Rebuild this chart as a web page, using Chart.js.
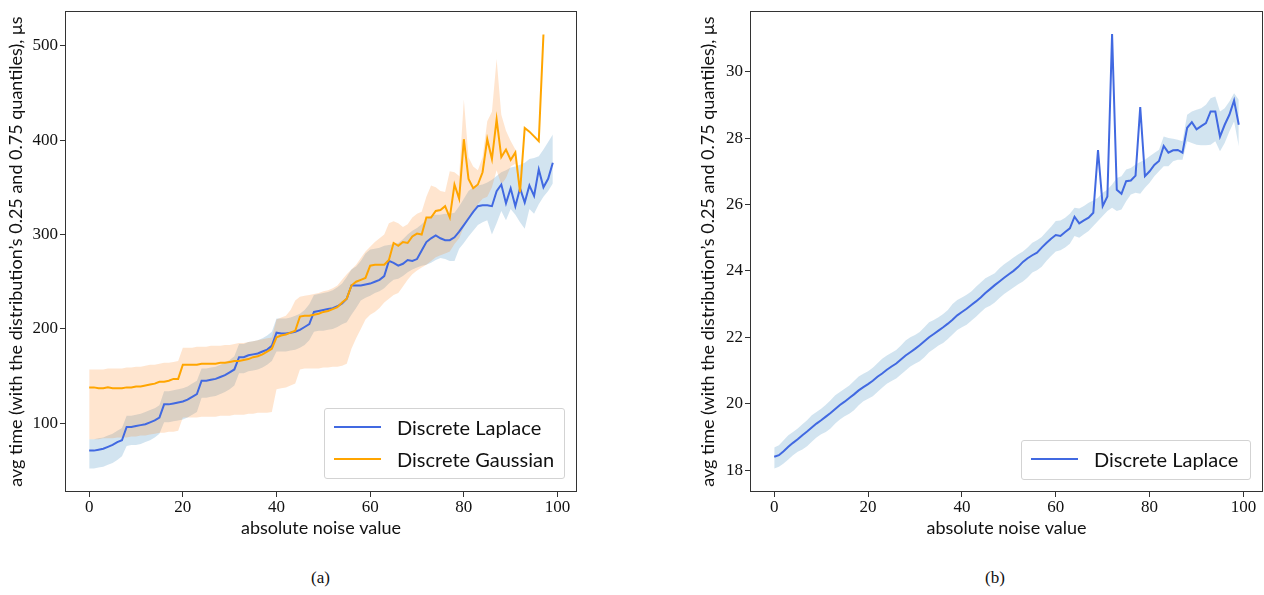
<!DOCTYPE html>
<html>
<head>
<meta charset="utf-8">
<script src="https://cdn.jsdelivr.net/npm/chart.js@4.4.0/dist/chart.umd.min.js"></script>
<style>
  body { margin: 0; background: #fff; }
  #page { position: relative; width: 1264px; height: 595px; overflow: hidden; }
  canvas { position: absolute; top: 0; }
  .legend { position: absolute; box-sizing: border-box; border: 1px solid #d3d3d3; border-radius: 3px;
            background: rgba(255,255,255,0.85); font-family: Lato, sans-serif; font-size: 20px; color: #111; }
  .legend-row { position: absolute; left: 0; height: 30px; display: flex; align-items: center; white-space: nowrap; }
  .legend-line { display: inline-block; width: 47px; height: 2px; margin-right: 16px; }
  .caption { position: absolute; top: 568px; font-family: 'Liberation Serif', serif; font-size: 17px; color: #111; }
</style>
</head>
<body>
<div id="page">
  <canvas id="chartA" width="600" height="545" style="left:0px;width:600px;height:545px"></canvas>
  <canvas id="chartB" width="584" height="545" style="left:680px;width:584px;height:545px"></canvas>
  <div id="legendA" class="legend" style="left:324px;top:408px;width:241px;height:71px"></div>
  <div id="legendB" class="legend" style="left:1021px;top:440px;width:230px;height:40px"></div>
  <div class="caption" style="left:311px">(a)</div>
  <div class="caption" style="left:985px">(b)</div>
</div>
<script>
// --- Data ---
const noise = [0,1,2,3,4,5,6,7,8,9,10,11,12,13,14,15,16,17,18,19,20,21,22,23,24,25,26,27,28,29,30,31,32,33,34,35,36,37,38,39,40,41,42,43,44,45,46,47,48,49,50,51,52,53,54,55,56,57,58,59,60,61,62,63,64,65,66,67,68,69,70,71,72,73,74,75,76,77,78,79,80,81,82,83,84,85,86,87,88,89,90,91,92,93,94,95,96,97,98,99];

// (a) discrete laplace: mean and 0.25 / 0.75 quantiles
const lapMean = [71,71,72,73,75,77,80,82, 96,96,97,98,99,101,103,106, 120,120,121,122,123,125,128,131,
  145,145,146,147,149,151,154,157, 170,170,172,173,174,176,178,182, 196,195,195,196,197,199,202,205,
  218,219,220,221,222,224,227,232, 246,246,246,247,248,250,252,256, 272,270,267,269,273,272,274,283,
  292,296,299,296,294,294,297,303, 310,317,324,330,331,331,330,346, 353,333,349,330,349,334,352,341,
  369,350,359,376];
const lapHi = [83,83,84,85,87,89,92,95, 108,108,109,110,112,114,116,119, 134,134,135,136,137,139,142,145,
  158,158,159,160,162,164,167,171, 184,184,186,187,188,190,193,197, 211,211,211,212,214,216,220,226,
  236,237,238,239,241,244,248,255, 263,266,272,280,284,285,286,288, 289,290,291,295,300,304,307,311,
  316,320,321,321,322,322,323,330, 338,346,350,352,353,355,358,362, 366,368,371,372,374,376,380,381,
  383,390,398,406];
const lapLo = [52,52,53,54,56,58,61,65, 76,77,77,78,80,82,85,89, 101,101,102,103,104,106,109,112,
  127,127,128,129,131,133,136,140, 153,153,155,156,157,159,162,166, 176,176,176,177,178,180,183,188,
  197,198,198,199,200,202,205,207, 215,222,230,233,235,238,240,243, 248,252,253,256,260,263,265,267,
  268,270,273,275,274,272,272,285, 291,298,304,310,313,315,300,312, 325,315,327,321,313,306,327,322,
  332,340,346,354];

// (a) discrete gaussian (line stops at 97, band at 92)
const gauMean = [138,138,137,137,138,137,137,137, 138,138,139,139,140,141,142,144, 144,145,147,147,
  162,162,162,162,163,163,163,163, 164,164,165,166, 166,167,168,170,171,173,176,179,
  191,193,194,196,198,213,214,214, 215,216,218,219,221,223,228,232, 246,250,252,254,267,268,268,268,
  273,291,288,292,291,298,301,300, 318,318,325,326,330,318,353,338, 401,359,349,353,366,401,380,422,
  382,390,379,387,345,413,409,404, 399,512];
const gauHi = [157,157,157,157,158,158,158,158,159,159,160,160,161,162,162,163,164,164,165,166,
  180,180,180,181,181,181,182,182,182,183,183,184,185,185,186,187,188,189,190,191,
  210,212,214,220,230,234,235,236, 237,238,240,241,243,246,252,258, 263,268,275,282,287,292,296,300,
  312,314,312,308,311,318,322,324, 340,352,350,346,345,367,366,362, 443,382,372,368,382,420,430,486,
  427,410,399,390,345];
const gauLo = [83,83,83,84,84,84,85,85,85,86,86,87,87,88,89,90,90,91,91,92,
  106,106,106,106,107,107,107,107,108,108,108,109,109,109,110,110,111,111,111,112,
  136,137,138,140,142,157,158,158, 158,158,159,159,160,160,161,163, 179,190,200,210,215,218,222,228,
  232,236,238,245,252,258,262,265, 268,272,276,278,280,282,290,296, 308,318,325,332,338,340,350,368,
  353,360,372,375,345];

// (b) discrete laplace only
const rMean = [18.40,18.45,18.57,18.70,18.82,18.93,19.05,19.16,19.28,19.40,
  19.50,19.61,19.72,19.84,19.96,20.06,20.17,20.28,20.40,20.50,
  20.59,20.69,20.81,20.91,21.02,21.12,21.21,21.33,21.45,21.55,
  21.65,21.76,21.88,22.00,22.10,22.20,22.30,22.41,22.53,22.66,
  22.76,22.86,22.97,23.08,23.20,23.33,23.45,23.57,23.68,23.79,
  23.90,24.00,24.12,24.27,24.38,24.47,24.55,24.70,24.84,24.97,
  25.08,25.05,25.17,25.28,25.63,25.43,25.52,25.60,25.75,27.64,
  25.95,26.24,31.13,26.44,26.32,26.70,26.72,26.87,28.93,26.85,
  27.00,27.19,27.31,27.76,27.56,27.63,27.64,27.56,28.31,28.48,
  28.26,28.36,28.45,28.80,28.80,28.04,28.40,28.70,29.13,28.40];
const rHi = [18.68,18.75,18.90,19.05,19.15,19.25,19.38,19.50,19.65,19.75,
  19.85,19.97,20.10,20.25,20.35,20.45,20.55,20.68,20.82,20.90,
  20.98,21.08,21.22,21.35,21.45,21.53,21.62,21.75,21.90,22.00,
  22.07,22.16,22.30,22.45,22.52,22.60,22.70,22.82,23.00,23.12,
  23.20,23.28,23.38,23.52,23.65,23.78,23.85,23.93,24.08,24.20,
  24.30,24.40,24.50,24.58,24.70,24.85,24.92,25.02,25.18,25.33,
  25.50,25.52,25.60,25.72,25.90,25.88,25.95,26.05,26.12,26.20,
  26.35,26.45,26.60,26.80,26.85,27.05,27.10,27.20,27.28,27.35,
  27.45,27.55,27.65,28.05,28.00,27.98,27.95,27.90,28.70,28.80,
  28.85,28.90,29.00,29.20,29.25,28.80,28.90,29.10,29.35,29.15];
const rLo = [18.05,18.10,18.20,18.32,18.45,18.55,18.62,18.72,18.85,18.98,
  19.08,19.15,19.25,19.40,19.52,19.62,19.70,19.80,19.95,20.07,
  20.15,20.22,20.35,20.48,20.60,20.68,20.76,20.88,21.00,21.12,
  21.20,21.28,21.40,21.55,21.65,21.75,21.83,21.95,22.08,22.22,
  22.30,22.38,22.50,22.62,22.75,22.88,22.95,23.05,23.18,23.30,
  23.40,23.50,23.60,23.68,23.80,23.95,24.02,24.12,24.30,24.45,
  24.58,24.62,24.70,24.82,25.05,25.00,25.10,25.20,25.35,25.50,
  25.65,25.80,25.90,25.80,25.85,26.10,26.30,26.35,26.32,26.50,
  26.65,26.85,27.00,27.15,27.15,27.30,27.35,27.35,27.90,27.85,
  27.80,27.78,27.78,27.80,27.90,27.60,27.85,28.20,28.50,27.75];

// tick labels
const xTicks = [0, 20, 40, 60, 80, 100];
const yTicksA = [100, 200, 300, 400, 500];
const yTicksB = [18, 20, 22, 24, 26, 28, 30];

// --- Styles ---
const BLUE = '#4169e1';
const ORANGE = '#ffa500';
const BLUE_FILL = 'rgba(31,119,180,0.2)';
const ORANGE_FILL = 'rgba(255,127,14,0.2)';
const TICK_FONT = { family: "'Liberation Serif', serif", size: 17 };
const LABEL_FONT = { family: 'Lato, sans-serif', size: 18 };

function pts(vals) {
  return vals.map((v, i) => ({ x: noise[i], y: v }));
}

function bandSets(lo, hi, fillColor) {
  return [
    { label: '_lo', data: pts(lo), borderWidth: 0, pointRadius: 0, fill: false },
    { label: '_hi', data: pts(hi), borderWidth: 0, pointRadius: 0, fill: '-1', backgroundColor: fillColor }
  ];
}

function meanSet(label, vals, color) {
  return { label: label, data: pts(vals), borderColor: color, backgroundColor: color,
           borderWidth: 2, pointRadius: 0, fill: false, tension: 0 };
}

// frame round the plot area (matplotlib style box)
const framePlugin = {
  id: 'frame',
  afterDraw(chart) {
    const { ctx, chartArea: a } = chart;
    ctx.save();
    ctx.strokeStyle = '#333';
    ctx.lineWidth = 1;
    ctx.strokeRect(Math.round(a.left) - 0.5, Math.round(a.top) - 0.5,
                   Math.round(a.right - a.left) + 1, Math.round(a.bottom - a.top) + 1);
    ctx.restore();
  }
};

function makeChart(id, datasets, yRange, yTicks, yAxisWidth, padRight, yTitlePad) {
  return new Chart(document.getElementById(id), {
    type: 'line',
    data: { datasets: datasets },
    plugins: [framePlugin],
    options: {
      responsive: false,
      animation: false,
      layout: { padding: { top: 6, right: padRight, left: 0, bottom: 0 } },
      plugins: {
        legend: { display: false },
        tooltip: { enabled: false },
        filler: { drawTime: 'beforeDatasetsDraw' } // all bands under all lines
      },
      elements: { line: { tension: 0 } },
      scales: {
        x: {
          type: 'linear', min: -4.95, max: 103.95,
          afterBuildTicks: s => { s.ticks = xTicks.map(v => ({ value: v })); },
          afterFit: s => { s.height = 54; },
          border: { display: false },
          grid: { drawOnChartArea: false, drawTicks: true, tickLength: 6, tickColor: '#333' },
          ticks: { font: TICK_FONT, color: '#111', padding: 0, maxRotation: 0, autoSkip: false },
          title: { display: true, text: 'absolute noise value', font: LABEL_FONT, color: '#111',
                   padding: { top: 0, bottom: 6 } }
        },
        y: {
          type: 'linear', min: yRange[0], max: yRange[1],
          afterBuildTicks: s => { s.ticks = yTicks.map(v => ({ value: v })); },
          afterFit: s => { s.width = yAxisWidth; },
          border: { display: false },
          grid: { drawOnChartArea: false, drawTicks: true, tickLength: 6, tickColor: '#333' },
          ticks: { font: TICK_FONT, color: '#111', padding: 2, autoSkip: false },
          title: { display: true, text: 'avg time (with the distribution\u2019s 0.25 and 0.75 quantiles), \u03bcs',
                   font: LABEL_FONT, color: '#111', padding: { top: yTitlePad, bottom: 0 } }
        }
      }
    }
  });
}

const chartA = makeChart('chartA', [
  ...bandSets(gauLo, gauHi, ORANGE_FILL),
  meanSet('Discrete Gaussian', gauMean, ORANGE),
  ...bandSets(lapLo, lapHi, BLUE_FILL),
  meanSet('Discrete Laplace', lapMean, BLUE)
], [28.2, 535.6], yTicksA, 66, 24, 5);

const chartB = makeChart('chartB', [
  ...bandSets(rLo, rHi, BLUE_FILL),
  meanSet('Discrete Laplace', rMean, BLUE)
], [17.37, 31.79], yTicksB, 71, 2, 17);

// html legends built from the chart datasets (laplace first, like the reference)
function buildLegend(chart, boxId, order, rowTops) {
  const box = document.getElementById(boxId);
  const sets = chart.data.datasets.filter(d => !d.label.startsWith('_'));
  order.forEach((name, i) => {
    const ds = sets.find(d => d.label === name);
    const row = document.createElement('div');
    row.className = 'legend-row';
    row.style.top = rowTops[i] + 'px';
    row.style.left = '9px';
    row.innerHTML = '<span class="legend-line" style="background:' + ds.borderColor + '"></span><span>' + ds.label + '</span>';
    box.appendChild(row);
  });
}
buildLegend(chartA, 'legendA', ['Discrete Laplace', 'Discrete Gaussian'], [3, 35]);
buildLegend(chartB, 'legendB', ['Discrete Laplace'], [3]);
</script>
</body>
</html>
